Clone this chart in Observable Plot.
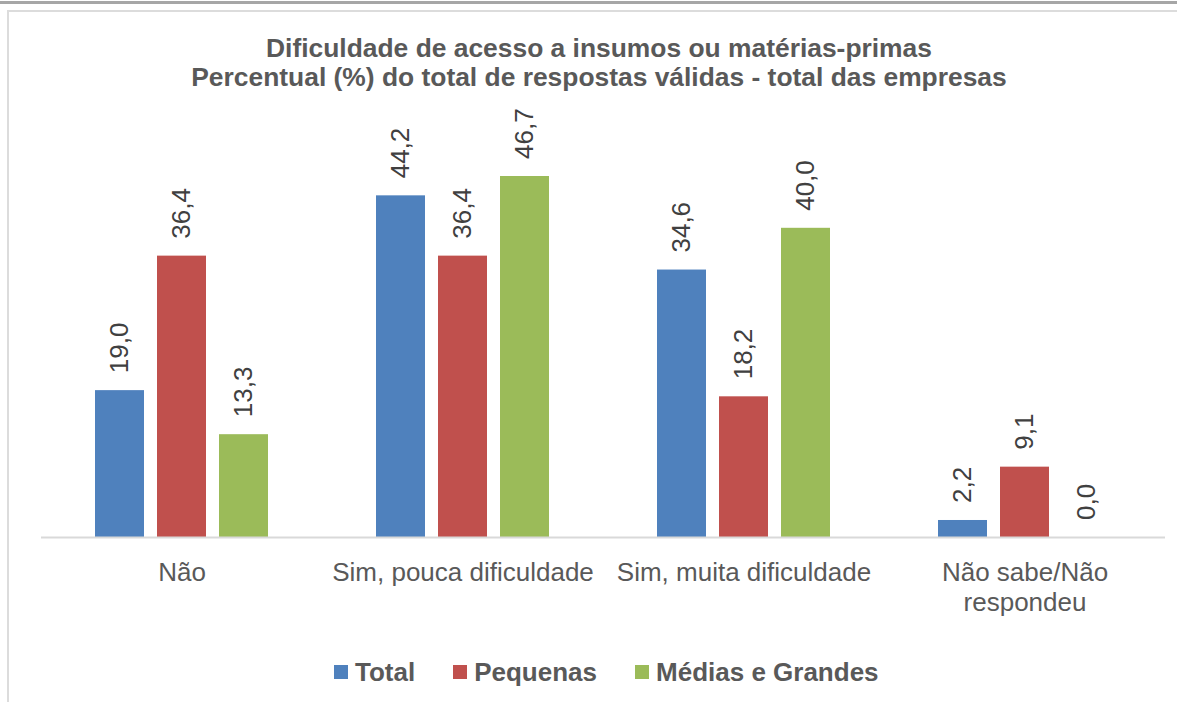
<!DOCTYPE html>
<html>
<head>
<meta charset="utf-8">
<script src="https://cdn.jsdelivr.net/npm/d3@7"></script>
<script src="https://cdn.jsdelivr.net/npm/@observablehq/plot@0.6"></script>
<style>
  html, body { margin: 0; padding: 0; background: #fff; }
  body { width: 1177px; height: 702px; position: relative; overflow: hidden; font-family: Arial, "Liberation Sans", sans-serif; }
  #topbar { position: absolute; left: 0; top: 1px; width: 1177px; height: 3px; background: #a6a6a6; }
  #frame { position: absolute; left: 7px; top: 10px; width: 1200px; height: 720px; border: 2px solid #dcdcdc; box-sizing: border-box; }
  #title { position: absolute; left: 0; top: 34px; width: 1198px; text-align: center; font-weight: bold; font-size: 26.4px; line-height: 29px; color: #595959; }
  #chart { position: absolute; left: 0; top: 100px; }
  #legend { position: absolute; left: 334px; top: 657px; display: flex; align-items: center; font-weight: bold; font-size: 26px; color: #595959; line-height: 30px; }
  .item { display: flex; align-items: center; margin-right: 38px; }
  .sw { width: 14px; height: 14px; margin-right: 7px; }
</style>
</head>
<body>
<div id="topbar"></div>
<div id="frame"></div>
<div id="title">Dificuldade de acesso a insumos ou matérias-primas<br>Percentual (%) do total de respostas válidas - total das empresas</div>
<div id="chart"></div>
<div id="legend"></div>
<script>
const categories = ["Não", "Sim, pouca dificuldade", "Sim, muita dificuldade", "Não sabe/Não respondeu"];
const categoryLabels = ["Não", "Sim, pouca dificuldade", "Sim, muita dificuldade", "Não sabe/Não\nrespondeu"];
const series = ["Total", "Pequenas", "Médias e Grandes"];
const total = [19.0, 44.2, 34.6, 2.2];
const pequenas = [36.4, 36.4, 18.2, 9.1];
const medias = [13.3, 46.7, 40.0, 0.0];
const colors = ["#4F81BD", "#C0504D", "#9BBB59"];

const seriesValues = [total, pequenas, medias];
const data = categories.flatMap((c, i) => series.map((s, j) => ({cat: c, series: s, value: seriesValues[j][i]})));
const fmt = v => v.toFixed(1).replace(".", ",");
const labelOf = c => categoryLabels[categories.indexOf(c)];

const chart = Plot.plot({
  width: 1177,
  height: 560,
  marginLeft: 40,
  marginRight: 12,
  marginTop: 50.5,
  marginBottom: 123,
  style: {fontFamily: "Arial, 'Liberation Sans', sans-serif", color: "#595959", background: "transparent"},
  fx: {domain: categories, padding: 0, label: null, axis: null},
  x: {domain: series, paddingInner: 0.21, paddingOuter: 0.862, axis: null},
  y: {domain: [0, 50], axis: null},
  color: {domain: series, range: colors},
  marks: [
    Plot.barY(data, {fx: "cat", x: "series", y: "value", fill: "series"}),
    Plot.ruleY([0], {stroke: "#d9d9d9", strokeWidth: 2}),
    Plot.text(data, {fx: "cat", x: "series", y: "value", text: d => fmt(d.value), rotate: -90, textAnchor: "start", dy: -17.5, fontSize: 26, fill: "#404040"}),
    Plot.axisFx({anchor: "bottom", tickSize: 0, tickPadding: 22, fontSize: 26, lineHeight: 1.15, tickFormat: labelOf, label: null, fill: "#595959"})
  ]
});
document.getElementById("chart").appendChild(chart);

const legend = document.getElementById("legend");
series.forEach((s, i) => {
  const item = document.createElement("div");
  item.className = "item";
  const sw = document.createElement("div");
  sw.className = "sw";
  sw.style.background = colors[i];
  const t = document.createElement("span");
  t.textContent = s;
  item.appendChild(sw);
  item.appendChild(t);
  legend.appendChild(item);
});
</script>
</body>
</html>
